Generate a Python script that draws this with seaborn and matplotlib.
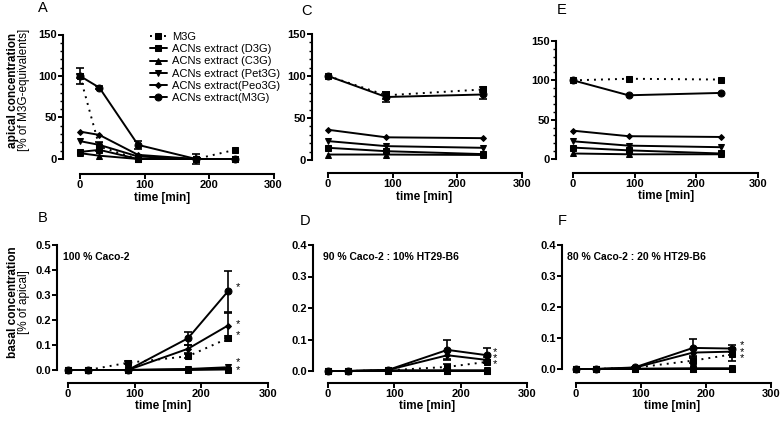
import numpy as np
import pandas as pd
import seaborn as sns
import matplotlib.pyplot as plt
from matplotlib.ticker import MultipleLocator, FormatStrFormatter

# Reihen und Zeitpunkte
series = ["M3G", "ACNs extract (D3G)", "ACNs extract (C3G)", "ACNs extract (Pet3G)",
          "ACNs extract(Peo3G)", "ACNs extract(M3G)"]
time_long = [0, 30, 90, 180, 240]
time_short = [0, 90, 240]

# A: apikal, 100 % Caco-2
A_vals = {
    "M3G": [100, 15, 0, 0, 11],
    "ACNs extract (D3G)": [8.5, 11, 0, 0, 0],
    "ACNs extract (C3G)": [7, 4, 0, 0, 0],
    "ACNs extract (Pet3G)": [21.5, 17, 3, 0, 0],
    "ACNs extract(Peo3G)": [33, 29, 5, 0, 0],
    "ACNs extract(M3G)": [100, 86, 17, 0, 0],
}
A_err = {"M3G": [10, 5, 0, 0, 0], "ACNs extract(M3G)": [3, 2, 5, 6, 0]}

# B: basal, 100 % Caco-2
B_vals = {
    "M3G": [0, 0, 0.029, 0.055, 0.127],
    "ACNs extract (D3G)": [0, 0, 0, 0, 0.002],
    "ACNs extract (C3G)": [0, 0, 0, 0.003, 0.006],
    "ACNs extract (Pet3G)": [0, 0, 0, 0.004, 0.011],
    "ACNs extract(Peo3G)": [0, 0, 0, 0.085, 0.178],
    "ACNs extract(M3G)": [0, 0, 0, 0.127, 0.315],
}
B_err = {"M3G": [0, 0, 0.006, 0.008, 0.01],
         "ACNs extract(Peo3G)": [0, 0, 0, 0.015, 0.05],
         "ACNs extract(M3G)": [0, 0, 0, 0.027, 0.083]}
B_stars = [0.333, 0.183, 0.14]
B_stars_low = 0.016   # zwei Sterne direkt uebereinander

# C: apikal, 90 % Caco-2 : 10 % HT29-B6
C_vals = {
    "M3G": [100, 77, 84],
    "ACNs extract (D3G)": [14.5, 10.5, 7],
    "ACNs extract (C3G)": [6.5, 6.5, 6],
    "ACNs extract (Pet3G)": [22.5, 16.5, 14.5],
    "ACNs extract(Peo3G)": [36, 27, 26],
    "ACNs extract(M3G)": [100, 75, 78],
}
C_err = {"M3G": [0, 4, 3], "ACNs extract(M3G)": [0, 6, 5]}

# D: basal, 90 % Caco-2 : 10 % HT29-B6
D_vals = {
    "M3G": [0, 0, 0.002, 0.013, 0.029],
    "ACNs extract (D3G)": [0, 0, 0, 0, 0],
    "ACNs extract (C3G)": [0, 0, 0.001, 0.001, 0.001],
    "ACNs extract (Pet3G)": [0, 0, 0.002, 0.002, 0.002],
    "ACNs extract(Peo3G)": [0, 0, 0.003, 0.05, 0.035],
    "ACNs extract(M3G)": [0, 0, 0.003, 0.067, 0.05],
}
D_err = {"M3G": [0, 0, 0, 0.008, 0.005],
         "ACNs extract(Peo3G)": [0, 0, 0, 0.015, 0.01],
         "ACNs extract(M3G)": [0, 0, 0, 0.03, 0.023]}
D_stars = 0.041   # Mitte der drei Sterne

# E: apikal, 80 % Caco-2 : 20 % HT29-B6
E_vals = {
    "M3G": [100, 102, 101],
    "ACNs extract (D3G)": [14.5, 11, 7],
    "ACNs extract (C3G)": [7, 6, 6],
    "ACNs extract (Pet3G)": [22.5, 17, 15],
    "ACNs extract(Peo3G)": [36, 29, 28],
    "ACNs extract(M3G)": [100, 81, 84],
}
E_err = {}

# F: basal, 80 % Caco-2 : 20 % HT29-B6
F_vals = {
    "M3G": [0, 0, 0.004, 0.027, 0.047],
    "ACNs extract (D3G)": [0, 0, 0, 0, 0],
    "ACNs extract (C3G)": [0, 0, 0, 0.001, 0.001],
    "ACNs extract (Pet3G)": [0, 0, 0.001, 0.002, 0.002],
    "ACNs extract(Peo3G)": [0, 0, 0.004, 0.053, 0.056],
    "ACNs extract(M3G)": [0, 0, 0.005, 0.068, 0.066],
}
F_err = {"M3G": [0, 0, 0.003, 0.008, 0.021],
         "ACNs extract(Peo3G)": [0, 0, 0, 0.01, 0.01],
         "ACNs extract(M3G)": [0, 0, 0, 0.03, 0.01]}
F_stars = 0.056

sns.set_style("ticks")
plt.rcParams['font.family'] = ['Liberation Sans', 'DejaVu Sans']
plt.rcParams.update({'text.color': 'black', 'axes.labelcolor': 'black',
                     'xtick.color': 'black', 'ytick.color': 'black',
                     'axes.edgecolor': 'black'})

W, H = 780, 421
fig = plt.figure(figsize=(W / 100, H / 100), dpi=100)

marker_of = dict(zip(series, ['s', 's', '^', 'v', 'D', 'o']))
size_of = dict(zip(series, [5, 5, 5, 5, 3, 5]))


def make_ax(yaxis, x0, x300, ytop, y0, ymax, out_px):
    ax = fig.add_axes([yaxis / W, 1 - y0 / H, (x300 - yaxis) / W, (y0 - ytop) / H])
    ax.set_xlim(-(x0 - yaxis) / (x300 - x0) * 300, 300)
    ax.set_ylim(0, ymax)
    ax.patch.set_alpha(0)
    for s in ['top', 'right']:
        ax.spines[s].set_visible(False)
    ax.spines['bottom'].set_position(('outward', out_px * 0.72))
    ax.spines['bottom'].set_bounds(0, 300)
    ax.spines['left'].set_bounds(0, ymax)
    for s in ['bottom', 'left']:
        ax.spines[s].set_linewidth(1.5)
        ax.spines[s].set_color('black')
    ax.set_xticks([0, 100, 200, 300])
    ax.tick_params(axis='both', which='major', direction='out', length=3.5, width=1.4,
                   labelsize=8, pad=1, colors='black')
    ax.tick_params(axis='y', which='minor', direction='out', length=2, width=1.0)
    return ax


def draw(ax, times, vals, errs):
    for name in series:
        ys = vals[name]
        ls = (0, (1, 2.6)) if name == "M3G" else '-'
        sns.lineplot(x=times, y=ys, ax=ax, color='k', marker=marker_of[name],
                     markersize=size_of[name], mec='k', mfc='k', linestyle=ls,
                     linewidth=1.4, label=name, clip_on=False, legend=False)
        if name in errs:
            e = np.array(errs[name])
            keep = e > 0
            ax.errorbar(np.array(times)[keep], np.array(ys)[keep], yerr=e[keep], fmt='none',
                        ecolor='k', elinewidth=1.2, capsize=3, capthick=1.2, clip_on=False)


# Panels
axA = make_ax(63, 80, 273.5, 34.5, 159, 150, 15)
axB = make_ax(57, 68, 268, 245, 370, 0.5, 13)
axC = make_ax(312, 328, 522, 34, 160, 150, 13)
axD = make_ax(313, 328, 527, 245, 371, 0.4, 12)
axE = make_ax(556, 573, 758, 41, 159, 150, 14)
axF = make_ax(562, 576, 771, 245, 369, 0.4, 14)

draw(axA, time_long, A_vals, A_err)
draw(axB, time_long, B_vals, B_err)
draw(axC, time_short, C_vals, C_err)
draw(axD, time_long, D_vals, D_err)
draw(axE, time_short, E_vals, E_err)
draw(axF, time_long, F_vals, F_err)

for ax in [axA, axC, axE]:
    ax.set_yticks([0, 50, 100, 150])
    ax.yaxis.set_minor_locator(MultipleLocator(10))
axB.set_yticks([0, 0.1, 0.2, 0.3, 0.4, 0.5])
for ax in [axD, axF]:
    ax.set_yticks([0, 0.1, 0.2, 0.3, 0.4])
for ax in [axB, axD, axF]:
    ax.yaxis.set_major_formatter(FormatStrFormatter('%.1f'))
for ax in [axA, axB, axC, axD, axE, axF]:
    for lab in ax.get_xticklabels() + ax.get_yticklabels():
        lab.set_fontweight('bold')
        lab.set_color('black')

# Legende in A
handles, labels = axA.get_legend_handles_labels()
axA.legend(handles, labels, loc='upper left', bbox_to_anchor=(150 / W, 1 - 32 / H),
           bbox_transform=fig.transFigure, frameon=False, fontsize=8, handlelength=1.5,
           handletextpad=0.5, labelspacing=0.2, borderpad=0, borderaxespad=0)

# Sterne
for y in B_stars:
    axB.text(255, y, '*', fontsize=8, ha='center', va='center', clip_on=False)
axB.text(255, B_stars_low, '*\n*', fontsize=8, ha='center', va='center',
         linespacing=0.75, clip_on=False)
axD.text(252, D_stars, '*\n*\n*', fontsize=8, ha='center', va='center',
         linespacing=0.55, clip_on=False)
axF.text(255, F_stars, '*\n*\n*', fontsize=8, ha='center', va='center',
         linespacing=0.55, clip_on=False)

# Annotationen
axB.text(0.03, 0.9, '100 % Caco-2', transform=axB.transAxes, fontsize=7.5,
         fontweight='bold', va='center')
axD.text(0.047, 0.905, '90 % Caco-2 : 10% HT29-B6', transform=axD.transAxes, fontsize=7.5,
         fontweight='bold', va='center')
axF.text(0.024, 0.90, '80 % Caco-2 : 20 % HT29-B6', transform=axF.transAxes, fontsize=7.5,
         fontweight='bold', va='center')

# Panelbuchstaben
for txt, x, y in [('A', 43, 8), ('B', 43, 218), ('C', 307, 11), ('D', 305, 221),
                  ('E', 562, 10), ('F', 562, 221)]:
    fig.text(x / W, 1 - y / H, txt, fontsize=10.5, ha='center', va='center')

# Achsentitel
for x, y in [(162, 198), (163, 406), (424, 197), (427, 406), (666, 196), (672, 406)]:
    fig.text(x / W, 1 - y / H, 'time [min]', fontsize=8.5, fontweight='bold',
             ha='center', va='center')
fig.text(13 / W, 1 - 90 / H, 'apical concentration', rotation=90, fontsize=8.5,
         fontweight='bold', ha='center', va='center')
fig.text(24 / W, 1 - 90 / H, '[% of M3G-equivalents]', rotation=90, fontsize=8.5,
         ha='center', va='center')
fig.text(13 / W, 1 - 302 / H, 'basal concentration', rotation=90, fontsize=8.5,
         fontweight='bold', ha='center', va='center')
fig.text(24 / W, 1 - 302 / H, '[% of apical]', rotation=90, fontsize=8.5,
         ha='center', va='center')

fig.savefig('out.png', dpi=100)
